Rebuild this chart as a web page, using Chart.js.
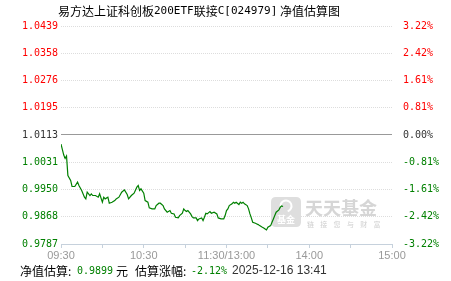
<!DOCTYPE html>
<html><head><meta charset="utf-8">
<script src="https://cdn.jsdelivr.net/npm/chart.js@4.4.1/dist/chart.umd.min.js"></script>
<style>html,body{margin:0;padding:0;background:#fff;overflow:hidden}#wrap{position:relative;width:451px;height:281px}</style>
</head><body><div id="wrap"><canvas id="c"></canvas></div>
<script>
// ---- data ----
const titleParts = [['易方达上证科创板','cjk'],['200ETF','mono'],['联接','cjk'],['C[024979]','mono'],[' 净值估算图','cjk']];
const minutes = [0,2,3,4,5,7,8,10,12,13,15,17,18,19,21,22,23,25,27,28,30,31,32,34,35,37,39,40,42,44,46,48,49,51,53,55,56,57,58,60,61,63,64,66,68,69,71,72,74,75,77,79,80,82,83,85,86,88,89,90,91,92,94,95,96,98,99,100,102,103,104,105,106,108,109,111,113,114,116,118,119,120,121,122,124,125,126,127,129,130,131,132,133,135,136,137,138,139,141,142,143,144,146,147,148,149,150,152,153,154,155,156,158,159,160,161];
const navValues = [1.0086,1.0053,1.0043,1.0050,0.9992,0.9977,0.9959,0.9959,0.9972,0.9962,0.9947,0.9927,0.9922,0.9942,0.9932,0.9937,0.9932,0.9932,0.9927,0.9937,0.9912,0.9927,0.9922,0.9927,0.9909,0.9912,0.9917,0.9922,0.9927,0.9942,0.9949,0.9935,0.9922,0.9932,0.9939,0.9957,0.9962,0.9947,0.9952,0.9939,0.9917,0.9912,0.9895,0.9892,0.9892,0.9902,0.9909,0.9909,0.9902,0.9892,0.9882,0.9887,0.9879,0.9877,0.9867,0.9865,0.9872,0.9879,0.9892,0.9887,0.9884,0.9887,0.9877,0.9869,0.9865,0.9865,0.9857,0.9862,0.9865,0.9857,0.9867,0.9879,0.9877,0.9884,0.9879,0.9882,0.9877,0.9865,0.9862,0.9862,0.9872,0.9887,0.9892,0.9902,0.9907,0.9912,0.9909,0.9912,0.9905,0.9912,0.9909,0.9912,0.9907,0.9902,0.9892,0.9877,0.9865,0.9852,0.9849,0.9847,0.9845,0.9842,0.9837,0.9835,0.9832,0.9829,0.9837,0.9842,0.9852,0.9862,0.9872,0.9882,0.9889,0.9897,0.9901,0.9899];
const leftTickLabels = ['0.9787','0.9868','0.9950','1.0031','1.0113','1.0195','1.0276','1.0358','1.0439'];
const rightTickLabels = ['-3.22%','-2.42%','-1.61%','-0.81%','0.00%','0.81%','1.61%','2.42%','3.22%'];
const xTickMinutes = [0,30,60,90,120,150,180,210,240];
const xLabelMinutes = [0,60,120,180,240];
const xLabels = ['09:30','10:30','11:30/13:00','14:00','15:00'];
const estNav = '0.9899';
const estChange = '-2.12%';
const estTime = '2025-12-16 13:41';
const footerLabel1 = '净值估算:';
const footerUnit = '元';
const footerLabel2 = '估算涨幅:';

// ---- styles ----
const RED = '#ff0000', GREEN = '#008000', DARK = '#333333';
const CJK = '"Noto Sans CJK SC", sans-serif';
const MONO = '"DejaVu Sans Mono", monospace';
const SANS = '"Liberation Sans", Arial, sans-serif';
const yMin = parseFloat(leftTickLabels[0]);
const yMax = parseFloat(leftTickLabels[leftTickLabels.length - 1]);
const mid = (leftTickLabels.length - 1) / 2;
function tickColor(i){ return i > mid ? RED : (i < mid ? GREEN : DARK); }
function evenTicks(s){
  const n = leftTickLabels.length - 1;
  s.ticks = leftTickLabels.map((_, i) => ({ value: yMin + (yMax - yMin) * i / n }));
}

function roundRect(ctx, x, y, w, h, r){
  ctx.beginPath();
  ctx.moveTo(x + r, y); ctx.lineTo(x + w - r, y); ctx.quadraticCurveTo(x + w, y, x + w, y + r);
  ctx.lineTo(x + w, y + h - r); ctx.quadraticCurveTo(x + w, y + h, x + w - r, y + h);
  ctx.lineTo(x + r, y + h); ctx.quadraticCurveTo(x, y + h, x, y + h - r);
  ctx.lineTo(x, y + r); ctx.quadraticCurveTo(x, y, x + r, y); ctx.closePath();
}

const decor = {
  id: 'decor',
  beforeDatasetsDraw(chart){
    const ctx = chart.ctx;
    ctx.save();
    ctx.fillStyle = '#dedede';
    roundRect(ctx, 271, 197, 30, 30, 5); ctx.fill();
    ctx.strokeStyle = '#ffffff'; ctx.lineWidth = 2;
    ctx.beginPath(); ctx.arc(286, 206, 5.5, Math.PI * 0.9, Math.PI * 2.4); ctx.stroke();
    ctx.fillStyle = '#ffffff'; ctx.font = 'bold 9px ' + CJK;
    ctx.textAlign = 'center'; ctx.textBaseline = 'middle';
    ctx.fillText('基金', 286, 220);
    ctx.fillStyle = '#d6d6d6'; ctx.font = 'bold 18px ' + CJK;
    ctx.textAlign = 'left';
    ctx.fillText('天天基金', 305, 208.5);
    ctx.fillStyle = '#cfcfcf'; ctx.font = '7px ' + CJK;
    const sub = '链接您与财富';
    for (let i = 0; i < sub.length; i++) ctx.fillText(sub[i], 307 + i * 13.3, 224.5);
    ctx.restore();
  },
  afterDraw(chart){
    const ctx = chart.ctx;
    ctx.save();
    ctx.textBaseline = 'middle'; ctx.textAlign = 'left';
    // title
    let x = 58;
    for (const [t, kind] of titleParts){
      ctx.font = kind === 'cjk' ? '12px ' + CJK : '11px ' + MONO;
      ctx.fillStyle = '#000';
      ctx.fillText(t, x, 11);
      x += ctx.measureText(t).width;
    }
    // footer
    const fy = 271;
    ctx.fillStyle = '#000'; ctx.font = '12px ' + CJK;
    ctx.fillText(footerLabel1, 20, fy);
    ctx.fillStyle = GREEN; ctx.font = '10px ' + MONO;
    ctx.fillText(estNav, 77, fy);
    ctx.fillStyle = '#000'; ctx.font = '12px ' + CJK;
    ctx.fillText(footerUnit, 116, fy);
    ctx.fillText(footerLabel2, 135, fy);
    ctx.fillStyle = GREEN; ctx.font = '10px ' + MONO;
    ctx.fillText(estChange, 191, fy);
    ctx.fillStyle = DARK; ctx.font = '12px ' + SANS;
    ctx.fillText(estTime, 232, fy);
    ctx.restore();
  }
};

new Chart(document.getElementById('c'), {
  type: 'line',
  data: { datasets: [{
    data: minutes.map((m, i) => ({ x: m, y: navValues[i] })),
    borderColor: GREEN, borderWidth: 1.2, pointRadius: 0, tension: 0, fill: false, yAxisID: 'y'
  }]},
  options: {
    responsive: true, maintainAspectRatio: false, animation: false, devicePixelRatio: 1,
    layout: { padding: { top: 26, bottom: 17, left: 0, right: 0 } },
    plugins: { legend: { display: false }, tooltip: { enabled: false }, title: { display: false } },
    scales: {
      x: {
        type: 'linear', min: 0, max: 240,
        afterBuildTicks: s => { s.ticks = xTickMinutes.map(v => ({ value: v })); },
        afterFit: s => { s.height = 20; },
        ticks: { autoSkip: false, maxRotation: 0, minRotation: 0, padding: 1, color: '#999',
          font: { family: SANS, size: 11 },
          callback: v => { const i = xLabelMinutes.indexOf(v); return i >= 0 ? xLabels[i] : ''; } },
        grid: { drawOnChartArea: false, drawTicks: true, tickLength: 4, tickColor: '#c6d1dc', color: '#c6d1dc' },
        border: { display: true, color: '#c6d1dc', width: 1 }
      },
      y: {
        position: 'left', min: yMin, max: yMax,
        afterBuildTicks: evenTicks,
        afterFit: s => { s.width = 61; },
        ticks: { padding: 3, font: { family: MONO, size: 10 },
          color: c => tickColor(c.index),
          callback: (v, i) => leftTickLabels[i] },
        grid: { drawTicks: false,
          color: c => c.index === 0 ? 'rgba(0,0,0,0)' : (c.index === mid ? '#999999' : '#dddddd'),
          lineWidth: 1 },
        border: { display: false, dash: c => c.index === mid ? [] : [1, 1] }
      },
      y2: {
        position: 'right', min: yMin, max: yMax,
        afterBuildTicks: evenTicks,
        afterFit: s => { s.width = 59; },
        ticks: { padding: 3, font: { family: MONO, size: 10 },
          color: c => tickColor(c.index),
          callback: (v, i) => rightTickLabels[i] },
        grid: { display: false },
        border: { display: false }
      }
    }
  },
  plugins: [decor]
});
</script>
</body></html>
